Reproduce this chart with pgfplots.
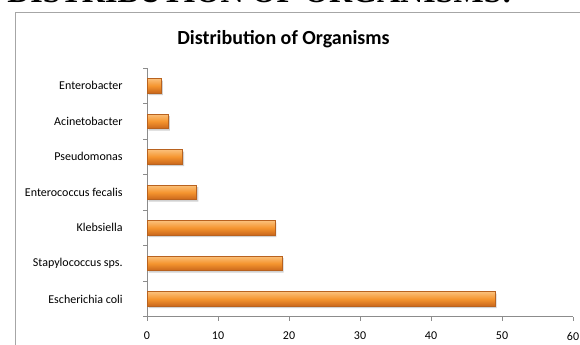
\documentclass[border=0pt]{standalone}
\usepackage{pgfplots}
\pgfplotsset{compat=1.18}
\usepackage{fontspec}
\setmainfont{Carlito}
\newfontfamily\seriffont{Liberation Serif}
\definecolor{bartop}{HTML}{FBC07A}
\definecolor{barmid}{HTML}{F5952F}
\definecolor{barbot}{HTML}{C9661B}
\definecolor{baredge}{HTML}{B8621F}
\definecolor{axgray}{HTML}{8C8C8C}
\definecolor{framegray}{HTML}{A6A6A6}
\pgfplotsset{orgbar/.style={xbar, bar shift=0pt, bar width=10.9pt, draw=baredge, line width=0.4pt, top color=bartop, bottom color=barbot, middle color=barmid}}
\begin{document}
\begin{tikzpicture}
\path[use as bounding box, clip] (0,0) rectangle (435pt,258pt);
\node[font=\seriffont\bfseries\fontsize{24}{28}\selectfont, anchor=base west, inner sep=0pt] at (5.25pt,256.5pt) {DISTRIBUTION OF ORGANISMS:};
\draw[color=framegray, line width=0.75pt] (11.5pt,-5pt) -- (11.5pt,248.8pt) -- (445pt,248.8pt);
\node[font=\bfseries\fontsize{15}{18}\selectfont, anchor=base, inner sep=0pt] at (212.6pt,225pt) {Distribution of Organisms};
\begin{axis}[
  at={(110.25pt,20.5pt)}, anchor=south west,
  scale only axis, width=319.5pt, height=186.5pt,
  xmin=0, xmax=60, ymin=-0.5, ymax=6.5,
  xtick={0,10,...,60},
  ytick={0,...,6},
  yticklabels={Escherichia coli, Stapylococcus sps., Klebsiella, Enterococcus fecalis, Pseudomonas, Acinetobacter, Enterobacter},
  axis x line*=bottom, axis y line*=left,
  axis line style={-, draw=axgray, line width=0.7pt},
  tick align=outside, major tick length=3pt,
  xtick style={draw=axgray, line width=0.6pt},
  ytick style={draw=none},
  extra y ticks={-0.5,0.5,...,6.5},
  extra y tick labels={},
  extra y tick style={ytick style={draw=axgray, line width=0.6pt}},
  tick label style={font=\fontsize{9}{11}\selectfont, text=black},
  yticklabel style={xshift=-11.75pt},
  xticklabel style={yshift=-5pt},
  /pgf/number format/assume math mode=true,
  clip=false,
]
\addplot[xbar, bar shift=0pt, bar width=10.9pt, fill=black, draw=none, opacity=0.18, xshift=1.2pt, yshift=-1.5pt, forget plot]
  coordinates {(49,0) (19,1) (18,2) (7,3) (5,4) (3,5) (2,6)};
\addplot[orgbar] coordinates {(49,0)};
\addplot[orgbar] coordinates {(19,1)};
\addplot[orgbar] coordinates {(18,2)};
\addplot[orgbar] coordinates {(7,3)};
\addplot[orgbar] coordinates {(5,4)};
\addplot[orgbar] coordinates {(3,5)};
\addplot[orgbar] coordinates {(2,6)};
\end{axis}
\end{tikzpicture}
\end{document}
